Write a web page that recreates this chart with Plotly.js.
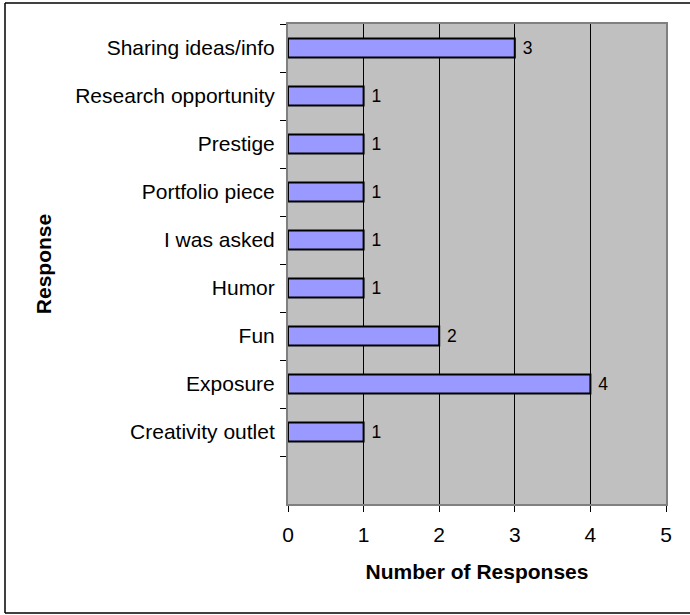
<!DOCTYPE html>
<html>
<head>
<meta charset="utf-8">
<script src="https://cdn.plot.ly/plotly-3.0.1.min.js"></script>
<style>html,body{margin:0;padding:0;background:#fff;}#chart{width:690px;height:615px;}</style>
</head>
<body>
<div id="chart"></div>
<script>
const categories = ["Creativity outlet","Exposure","Fun","Humor","I was asked","Portfolio piece","Prestige","Research opportunity","Sharing ideas/info"];
const counts = [1,4,2,1,1,1,1,1,3];
const xTickValues = [0,1,2,3,4,5];
const xTitle = "Number of Responses";
const yTitle = "Response";

const FONT = "Arial, 'Liberation Sans', sans-serif";
const FS = 21;
const trace = {
  type: "bar",
  orientation: "h",
  x: counts,
  y: categories,
  width: 0.4,
  marker: {color: "#9999FF", line: {color: "#000000", width: 2}},
  text: counts.map(v => "\u00a0" + v),
  textposition: "outside",
  textfont: {family: FONT, size: FS, color: "#000"},
  cliponaxis: false,
  hoverinfo: "none"
};

const fx = px => (px - 288) / 378;
const fy = py => (504 - py) / 480;
const frameLine = (x0, y0, x1, y1) => ({
  type: "line", xref: "paper", yref: "paper",
  x0: fx(x0), y0: fy(y0), x1: fx(x1), y1: fy(y1),
  line: {color: "#000", width: 1.5}, layer: "below"
});

const layout = {
  width: 690, height: 615,
  margin: {l: 288, r: 24, t: 24, b: 111, pad: 0},
  paper_bgcolor: "#ffffff",
  plot_bgcolor: "#C0C0C0",
  showlegend: false,
  font: {family: FONT, size: FS, color: "#000"},
  xaxis: {
    range: [0, 5],
    tickvals: xTickValues,
    ticktext: xTickValues.map(String),
    showgrid: true, gridcolor: "#000000", gridwidth: 1,
    zeroline: false,
    showline: true, linecolor: "#808080", linewidth: 2, mirror: true,
    ticks: "outside", ticklen: 6, tickcolor: "#000", tickwidth: 1,
    ticklabelstandoff: 5,
    tickfont: {family: FONT, size: FS, color: "#000"},
    title: {text: "<b>" + xTitle + "</b>", font: {family: FONT, size: FS, color: "#000"}, standoff: 19}
  },
  yaxis: {
    type: "category",
    categoryorder: "array",
    categoryarray: categories,
    range: [-1.5, 8.5],
    showgrid: false, zeroline: false,
    showline: true, linecolor: "#808080", linewidth: 2, mirror: true,
    ticks: "outside", ticklen: 6, tickcolor: "#000", tickwidth: 1,
    tickson: "boundaries",
    ticklabelstandoff: 7,
    tickfont: {family: FONT, size: FS, color: "#000"},
    title: {text: "<b>" + yTitle + "</b>", font: {family: FONT, size: FS, color: "#000"}, standoff: 18}
  },
  shapes: [
    frameLine(5, 3, 700, 3),
    frameLine(5, 3, 5, 613),
    frameLine(5, 613, 700, 613)
  ]
};

Plotly.newPlot("chart", [trace], layout, {staticPlot: true, displayModeBar: false});
</script>
</body>
</html>
